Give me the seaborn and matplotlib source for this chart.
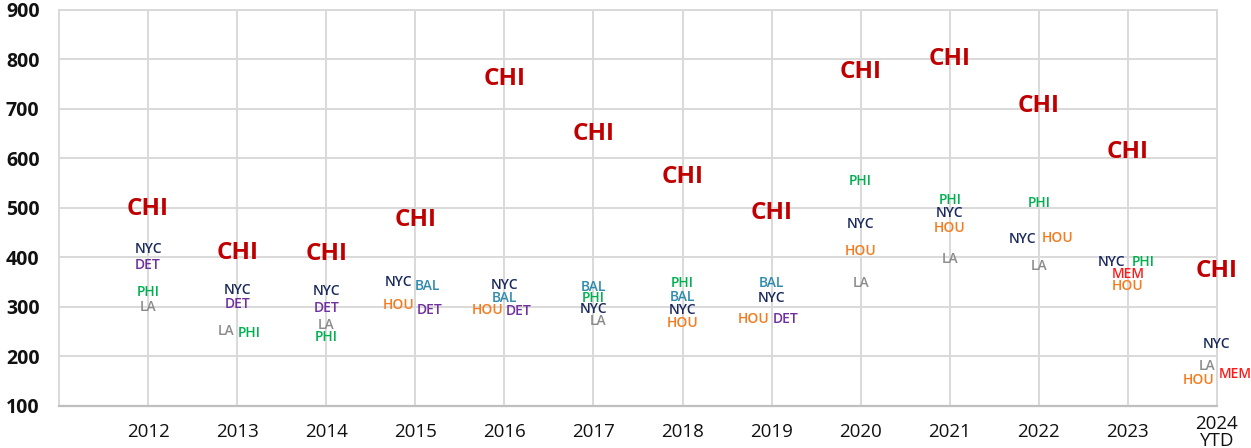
import numpy as np
import pandas as pd
import matplotlib.pyplot as plt
import seaborn as sns

# Data
years = ['2012', '2013', '2014', '2015', '2016', '2017', '2018', '2019',
         '2020', '2021', '2022', '2023', '2024\nYTD']
chi = [498, 410, 408, 476, 761, 650, 562, 489, 775, 800, 706, 614, 373]
nyc = [417, 334, 332, 351, 344, 295, 294, 318, 467, 489, 437, 390, 225]
det = [385, 307, 297, 294, 291, None, None, 275, None, None, None, None, None]
phi = [331, 247, 239, None, None, 318, 349, None, 555, 516, 511, 390, None]
la = [300, 251, 264, None, None, 272, None, None, 349, 396, 383, None, 180]
bal = [None, None, None, 343, 318, 341, 321, 348, None, None, None, None, None]
hou = [None, None, None, 303, 293, None, 268, 275, 414, 460, 440, 343, 152]
mem = [None, None, None, None, None, None, None, None, None, None, None, 367, 165]

cities = {'CHI': chi, 'NYC': nyc, 'DET': det, 'PHI': phi, 'LA': la,
          'BAL': bal, 'HOU': hou, 'MEM': mem}

# label styling
COLORS = {'CHI': '#C00000', 'NYC': '#1B2A5E', 'DET': '#7030A0', 'PHI': '#00B050',
          'LA': '#8C8C8C', 'BAL': '#2E8BAE', 'HOU': '#F47C20', 'MEM': '#FF1A1A'}
# sideways nudges (category units) where labels collide
NUDGE = {('LA', 1): -0.12, ('PHI', 1): 0.13,
         ('NYC', 3): -0.19, ('BAL', 3): 0.14, ('HOU', 3): -0.19, ('DET', 3): 0.16,
         ('HOU', 4): -0.19, ('DET', 4): 0.16,
         ('LA', 5): 0.05,
         ('HOU', 7): -0.2, ('DET', 7): 0.16,
         ('NYC', 10): -0.18, ('HOU', 10): 0.21,
         ('NYC', 11): -0.18, ('PHI', 11): 0.17,
         ('LA', 12): -0.11, ('MEM', 12): 0.2, ('HOU', 12): -0.21}

rows = []
for city, vals in cities.items():
    for i, v in enumerate(vals):
        if v is not None:
            rows.append({'year': years[i], 'idx': i, 'city': city, 'value': v})
df = pd.DataFrame(rows)

sns.set_theme(style='whitegrid')
plt.rcParams['font.family'] = ['Open Sans', 'DejaVu Sans']

fig = plt.figure(figsize=(12.51, 4.48), dpi=100)
ax = fig.add_axes([0.0472, 0.0938, 0.9256, 0.884])

sns.stripplot(data=df, x='year', y='value', order=years, jitter=False,
              size=0, ax=ax)

for _, r in df.iterrows():
    big = r['city'] == 'CHI'
    ax.text(r['idx'] + NUDGE.get((r['city'], r['idx']), 0), r['value'], r['city'],
            color=COLORS[r['city']], ha='center', va='center',
            fontsize=17.5 if big else 10,
            fontweight='bold' if big else 'semibold')

ax.set_xlim(-1, 12)
ax.set_ylim(100, 900)
ax.set_yticks(np.arange(100, 901, 100))
ax.set_xlabel('')
ax.set_ylabel('')
ax.grid(True, color='#D9D9D9', linewidth=1.4)
for side in ['left', 'top', 'right']:
    ax.spines[side].set_color('#D9D9D9')
    ax.spines[side].set_linewidth(1.4)
ax.spines['bottom'].set_color('#BFBFBF')
ax.spines['bottom'].set_linewidth(1.6)

ax.tick_params(axis='y', length=0, pad=14, labelsize=14, labelcolor='#111111')
ax.tick_params(axis='x', length=0, pad=19, labelsize=13.5, labelcolor='#111111')
for t in ax.get_yticklabels():
    t.set_fontweight('bold')
for t in ax.get_xticklabels():
    t.set_verticalalignment('center')
    t.set_linespacing(0.9)

fig.savefig('out.png', dpi=100)
